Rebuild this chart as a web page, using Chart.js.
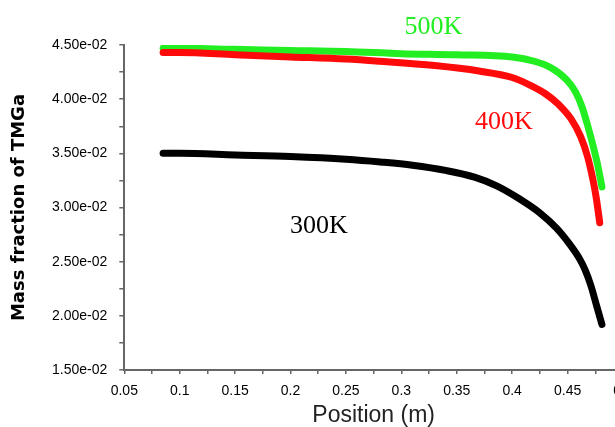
<!doctype html>
<html lang="en">
<head>
  <meta charset="utf-8">
  <title>Mass fraction of TMGa vs position</title>
  <style>
    * { margin: 0; padding: 0; }
    html, body { width: 615px; height: 427px; overflow: hidden; background: white; }
    .chartBox { position: relative; width: 700px; height: 427px; }
  </style>
</head>
<body>
<div class="chartBox">
  <canvas id="myChart"></canvas>
</div>

<script src="https://cdn.jsdelivr.net/npm/chart.js"></script>
<script>
  // position (m) / mass fraction of TMGa, one pair of arrays per temperature
  const pos300 = [0.085, 0.1, 0.15, 0.2, 0.25, 0.281, 0.31, 0.341, 0.366, 0.386, 0.405, 0.425, 0.44, 0.452, 0.46, 0.466, 0.471, 0.476, 0.481];
  const frac300 = [0.0350, 0.0350, 0.03485, 0.0347, 0.03445, 0.0342, 0.0339, 0.0334, 0.0328, 0.0320, 0.0309, 0.0295, 0.0281, 0.0266, 0.0254, 0.0242, 0.0228, 0.0210, 0.0192];

  const pos400 = [0.085, 0.1, 0.15, 0.2, 0.25, 0.28, 0.33, 0.37, 0.4, 0.416, 0.43, 0.442, 0.453, 0.462, 0.468, 0.473, 0.476, 0.479];
  const frac400 = [0.0443, 0.0443, 0.0441, 0.0439, 0.0437, 0.0435, 0.0431, 0.0426, 0.0420, 0.0413, 0.0405, 0.0395, 0.0382, 0.0365, 0.0347, 0.0325, 0.0308, 0.0286];

  const pos500 = [0.085, 0.1, 0.15, 0.2, 0.25, 0.3, 0.35, 0.4, 0.42, 0.435, 0.449, 0.457, 0.463, 0.468, 0.473, 0.477, 0.481];
  const frac500 = [0.0447, 0.0447, 0.0446, 0.0445, 0.0444, 0.0442, 0.0441, 0.0439, 0.0435, 0.0429, 0.0418, 0.0407, 0.0393, 0.0376, 0.0357, 0.0340, 0.0319];

  // curve labels and where they sit (data units)
  const curveLabels = ['300K', '400K', '500K'];
  const labelX = [0.2256, 0.3925, 0.329];
  const labelY = [0.02829, 0.03792, 0.04665];
  const curveColors = ['#000000', '#ff0a0a', '#22ee22'];

  const toPoints = (xs, ys) => xs.map((x, i) => ({ x: x, y: ys[i] }));

  function sciLabel(v) {
    // 0.045 -> 4.50e-02
    return v.toExponential(2).replace(/e([+-])(\d)$/, 'e$10$2');
  }

  const curveText = {
    id: 'curveText',
    afterDatasetsDraw(chart) {
      const { ctx, scales } = chart;
      ctx.save();
      ctx.font = '26px "Liberation Serif"';
      ctx.textAlign = 'center';
      ctx.textBaseline = 'middle';
      curveLabels.forEach((t, i) => {
        ctx.fillStyle = curveColors[i];
        ctx.fillText(t, scales.x.getPixelForValue(labelX[i]), scales.y.getPixelForValue(labelY[i]));
      });
      ctx.restore();
    }
  };

  const lineStyle = {
    borderWidth: 7,
    pointRadius: 0,
    fill: false,
    cubicInterpolationMode: 'monotone',
    borderCapStyle: 'round',
    borderJoinStyle: 'round'
  };

  const data = {
    datasets: [
      Object.assign({ label: '300K', data: toPoints(pos300, frac300), borderColor: curveColors[0] }, lineStyle),
      Object.assign({ label: '400K', data: toPoints(pos400, frac400), borderColor: curveColors[1] }, lineStyle),
      Object.assign({ label: '500K', data: toPoints(pos500, frac500), borderColor: curveColors[2] }, lineStyle)
    ]
  };

  const config = {
    type: 'line',
    data,
    options: {
      responsive: true,
      maintainAspectRatio: false,
      animation: false,
      layout: { padding: { top: 45, right: 77, left: 0, bottom: 0 } },
      plugins: {
        legend: { display: false },
        tooltip: { enabled: false }
      },
      scales: {
        x: {
          type: 'linear',
          min: 0.05,
          max: 0.5,
          afterFit: (scale) => { scale.height = 57; },
          border: { color: '#666', width: 2 },
          grid: { drawOnChartArea: false, drawTicks: true, tickLength: 4, color: '#666', lineWidth: 1.5 },
          ticks: {
            stepSize: 0.025,
            autoSkip: false,
            maxRotation: 0,
            padding: 9,
            color: '#000',
            font: { family: '"Liberation Sans"', size: 14 },
            callback: (v) => Math.round(v * 1000) % 50 === 0 ? String(+v.toFixed(2)) : ''
          },
          title: {
            display: true,
            text: 'Position (m)',
            color: '#222',
            padding: 0,
            font: { family: '"Liberation Sans"', size: 23, lineHeight: 1 }
          }
        },
        y: {
          min: 0.015,
          max: 0.045,
          afterFit: (scale) => { scale.width = 124.3; },
          border: { color: '#666', width: 2 },
          grid: { drawOnChartArea: false, drawTicks: true, tickLength: 5, color: '#666', lineWidth: 1.5 },
          ticks: {
            stepSize: 0.0025,
            autoSkip: false,
            padding: 12,
            color: '#000',
            font: { family: '"Liberation Sans"', size: 14 },
            callback: (v) => Math.round(v * 10000) % 50 === 0 ? sciLabel(v) : ''
          },
          title: {
            display: true,
            text: 'Mass fraction of TMGa',
            color: '#000',
            padding: { top: 10, bottom: 0 },
            font: { family: '"DejaVu Sans"', size: 18, weight: 'bold', lineHeight: 1 }
          }
        }
      }
    },
    plugins: [curveText]
  };

  const myChart = new Chart(document.getElementById('myChart'), config);
</script>
</body>
</html>
